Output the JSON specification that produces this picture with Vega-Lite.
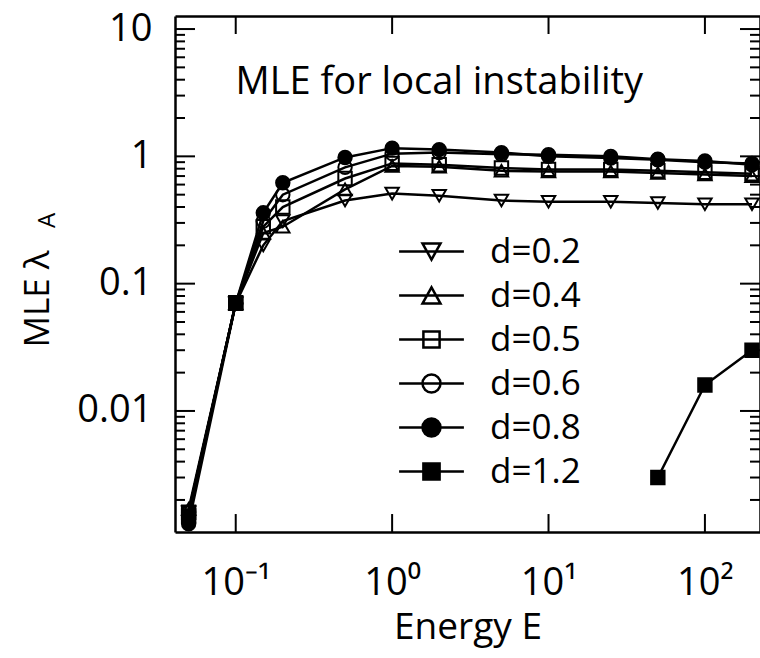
{
  "$schema": "https://vega.github.io/schema/vega-lite/v6.json",
  "width": 585,
  "height": 516,
  "autosize": {"type": "none"},
  "padding": {"left": 175, "top": 16, "right": 0, "bottom": 126},
  "background": "white",
  "config": {
    "view": {"stroke": null},
    "font": "Open Sans",
    "axis": {"titleFontWeight": "normal", "labelColor": "black", "titleColor": "black", "domainColor": "black", "domainWidth": 2.5, "grid": false}
  },
  "data": {
    "values": [
      {"E": 0.05, "v": 0.0016, "d": "d=0.2", "seg": "a"},
      {"E": 0.1, "v": 0.07, "d": "d=0.2", "seg": "a"},
      {"E": 0.15, "v": 0.2, "d": "d=0.2", "seg": "a"},
      {"E": 0.2, "v": 0.31, "d": "d=0.2", "seg": "a"},
      {"E": 0.5, "v": 0.45, "d": "d=0.2", "seg": "a"},
      {"E": 1, "v": 0.51, "d": "d=0.2", "seg": "a"},
      {"E": 2, "v": 0.49, "d": "d=0.2", "seg": "a"},
      {"E": 5, "v": 0.45, "d": "d=0.2", "seg": "a"},
      {"E": 10, "v": 0.44, "d": "d=0.2", "seg": "a"},
      {"E": 25, "v": 0.44, "d": "d=0.2", "seg": "a"},
      {"E": 50, "v": 0.43, "d": "d=0.2", "seg": "a"},
      {"E": 100, "v": 0.42, "d": "d=0.2", "seg": "a"},
      {"E": 200, "v": 0.42, "d": "d=0.2", "seg": "a"},

      {"E": 0.05, "v": 0.0017, "d": "d=0.4", "seg": "a"},
      {"E": 0.1, "v": 0.07, "d": "d=0.4", "seg": "a"},
      {"E": 0.15, "v": 0.25, "d": "d=0.4", "seg": "a"},
      {"E": 0.2, "v": 0.28, "d": "d=0.4", "seg": "a"},
      {"E": 0.5, "v": 0.55, "d": "d=0.4", "seg": "a"},
      {"E": 1, "v": 0.84, "d": "d=0.4", "seg": "a"},
      {"E": 2, "v": 0.83, "d": "d=0.4", "seg": "a"},
      {"E": 5, "v": 0.77, "d": "d=0.4", "seg": "a"},
      {"E": 10, "v": 0.76, "d": "d=0.4", "seg": "a"},
      {"E": 25, "v": 0.76, "d": "d=0.4", "seg": "a"},
      {"E": 50, "v": 0.74, "d": "d=0.4", "seg": "a"},
      {"E": 100, "v": 0.72, "d": "d=0.4", "seg": "a"},
      {"E": 200, "v": 0.7, "d": "d=0.4", "seg": "a"},

      {"E": 0.05, "v": 0.0016, "d": "d=0.5", "seg": "a"},
      {"E": 0.1, "v": 0.07, "d": "d=0.5", "seg": "a"},
      {"E": 0.15, "v": 0.28, "d": "d=0.5", "seg": "a"},
      {"E": 0.2, "v": 0.4, "d": "d=0.5", "seg": "a"},
      {"E": 0.5, "v": 0.67, "d": "d=0.5", "seg": "a"},
      {"E": 1, "v": 0.88, "d": "d=0.5", "seg": "a"},
      {"E": 2, "v": 0.86, "d": "d=0.5", "seg": "a"},
      {"E": 5, "v": 0.81, "d": "d=0.5", "seg": "a"},
      {"E": 10, "v": 0.79, "d": "d=0.5", "seg": "a"},
      {"E": 25, "v": 0.79, "d": "d=0.5", "seg": "a"},
      {"E": 50, "v": 0.77, "d": "d=0.5", "seg": "a"},
      {"E": 100, "v": 0.75, "d": "d=0.5", "seg": "a"},
      {"E": 200, "v": 0.73, "d": "d=0.5", "seg": "a"},

      {"E": 0.05, "v": 0.0016, "d": "d=0.6", "seg": "a"},
      {"E": 0.1, "v": 0.07, "d": "d=0.6", "seg": "a"},
      {"E": 0.15, "v": 0.31, "d": "d=0.6", "seg": "a"},
      {"E": 0.2, "v": 0.5, "d": "d=0.6", "seg": "a"},
      {"E": 0.5, "v": 0.82, "d": "d=0.6", "seg": "a"},
      {"E": 1, "v": 1.05, "d": "d=0.6", "seg": "a"},
      {"E": 2, "v": 1.07, "d": "d=0.6", "seg": "a"},
      {"E": 5, "v": 1.04, "d": "d=0.6", "seg": "a"},
      {"E": 10, "v": 1.03, "d": "d=0.6", "seg": "a"},
      {"E": 25, "v": 1.0, "d": "d=0.6", "seg": "a"},
      {"E": 50, "v": 0.95, "d": "d=0.6", "seg": "a"},
      {"E": 100, "v": 0.92, "d": "d=0.6", "seg": "a"},
      {"E": 200, "v": 0.86, "d": "d=0.6", "seg": "a"},

      {"E": 0.05, "v": 0.0013, "d": "d=0.8", "seg": "a"},
      {"E": 0.1, "v": 0.07, "d": "d=0.8", "seg": "a"},
      {"E": 0.15, "v": 0.36, "d": "d=0.8", "seg": "a"},
      {"E": 0.2, "v": 0.62, "d": "d=0.8", "seg": "a"},
      {"E": 0.5, "v": 0.98, "d": "d=0.8", "seg": "a"},
      {"E": 1, "v": 1.16, "d": "d=0.8", "seg": "a"},
      {"E": 2, "v": 1.13, "d": "d=0.8", "seg": "a"},
      {"E": 5, "v": 1.07, "d": "d=0.8", "seg": "a"},
      {"E": 10, "v": 1.0, "d": "d=0.8", "seg": "a"},
      {"E": 25, "v": 0.97, "d": "d=0.8", "seg": "a"},
      {"E": 50, "v": 0.94, "d": "d=0.8", "seg": "a"},
      {"E": 100, "v": 0.9, "d": "d=0.8", "seg": "a"},
      {"E": 200, "v": 0.88, "d": "d=0.8", "seg": "a"},

      {"E": 0.05, "v": 0.0015, "d": "d=1.2", "seg": "a"},
      {"E": 0.1, "v": 0.071, "d": "d=1.2", "seg": "a"},
      {"E": 50, "v": 0.003, "d": "d=1.2", "seg": "b"},
      {"E": 100, "v": 0.016, "d": "d=1.2", "seg": "b"},
      {"E": 200, "v": 0.03, "d": "d=1.2", "seg": "b"}
    ]
  },
  "layer": [
    {
      "mark": {"type": "line", "color": "black", "strokeWidth": 2.5},
      "encoding": {
        "x": {
          "field": "E", "type": "quantitative",
          "scale": {"type": "log", "domain": [0.0409, 225], "nice": false},
          "axis": {
            "orient": "bottom",
            "values": [0.1, 1, 10, 100],
            "ticks": false,
            "labelExpr": "datum.value == 0.1 ? '10⁻¹' : datum.value == 1 ? '10⁰' : datum.value == 10 ? '10¹' : '10²'",
            "labelFontSize": 38, "labelPadding": 32, "labelOverlap": false, "labelFlush": false, "labelBound": false,
            "title": "Energy E", "titleFontSize": 37, "titleY": 106, "titleBaseline": "alphabetic"
          }
        },
        "y": {
          "field": "v", "type": "quantitative",
          "scale": {"type": "log", "domain": [0.00112, 12.66], "nice": false},
          "axis": {
            "orient": "left",
            "values": [0.01, 0.1, 1, 10],
            "ticks": false,
            "labelExpr": "datum.value == 10 ? '10' : datum.value == 1 ? '1' : datum.value == 0.1 ? '0.1' : '0.01'",
            "labelFontSize": 38, "labelPadding": 23, "labelOverlap": false, "labelFlush": false, "labelBound": false,
            "title": "MLE λ", "titleFontSize": 35, "titleAngle": 270, "titleX": -138, "titleY": 331, "titleAlign": "left", "titleBaseline": "middle"
          }
        },
        "detail": [{"field": "d"}, {"field": "seg"}]
      }
    },
    {
      "mark": {"type": "point", "filled": true, "stroke": "black", "strokeWidth": 2, "size": 180, "opacity": 1},
      "encoding": {
        "x": {
          "field": "E", "type": "quantitative",
          "scale": {"type": "log", "domain": [0.0409, 225], "nice": false},
          "axis": {
            "orient": "top", "ticks": false, "labels": false,
            "title": "MLE for local instability", "titleFontSize": 38, "titleX": 60, "titleY": 77, "titleAlign": "left", "titleBaseline": "alphabetic", "titleAngle": 0
          }
        },
        "y": {
          "field": "v", "type": "quantitative",
          "scale": {"type": "log", "domain": [0.00112, 12.66], "nice": false},
          "axis": {"orient": "right", "ticks": false, "labels": false, "title": null}
        },
        "shape": {
          "field": "d", "type": "nominal",
          "scale": {"domain": ["d=0.2", "d=0.4", "d=0.5", "d=0.6", "d=0.8", "d=1.2"], "range": ["triangle-down", "triangle-up", "square", "circle", "circle", "square"]},
          "legend": null
        },
        "fill": {
          "field": "d", "type": "nominal",
          "scale": {"domain": ["d=0.2", "d=0.4", "d=0.5", "d=0.6", "d=0.8", "d=1.2"], "range": ["transparent", "transparent", "transparent", "transparent", "black", "black"]},
          "legend": null
        }
      }
    },
    {
      "transform": [{"filter": "false"}],
      "mark": {"type": "point", "filled": true, "strokeWidth": 2.5, "size": 324, "opacity": 1},
      "encoding": {
        "x": {
          "field": "E", "type": "quantitative",
          "scale": {"type": "log", "domain": [0.0409, 225], "nice": false},
          "axis": {"orient": "bottom", "ticks": false, "labels": false, "domain": false, "title": null}
        },
        "y": {
          "field": "v", "type": "quantitative",
          "scale": {"type": "log", "domain": [0.00112, 12.66], "nice": false},
          "axis": {
            "orient": "left", "ticks": false, "labels": false, "domain": false,
            "title": "A", "titleFontSize": 24, "titleAngle": 270, "titleX": -128, "titleY": 204, "titleAlign": "center", "titleBaseline": "middle"
          }
        },
        "shape": {
          "field": "d", "type": "nominal",
          "scale": {"domain": ["d=0.2", "d=0.4", "d=0.5", "d=0.6", "d=0.8", "d=1.2"], "range": ["M-3.6,0H3.6M-1,-0.9H1L0,0.9Z", "M-3.6,0H3.6M-1,0.9H1L0,-0.9Z", "M-3.6,0H3.6M-0.9,-0.9H0.9V0.9H-0.9Z", "M-3.6,0H3.6M-1,0A1,1,0,1,0,1,0A1,1,0,1,0,-1,0Z", "M-3.6,0H3.6M-1,0A1,1,0,1,0,1,0A1,1,0,1,0,-1,0Z", "M-3.6,0H3.6M-0.9,-0.9H0.9V0.9H-0.9Z"]},
          "legend": {
            "orient": "none", "legendX": 239, "legendY": 218, "title": null, "padding": 0,
            "symbolSize": 324, "symbolStrokeWidth": 2.5,
            "labelFontSize": 35, "labelColor": "black", "labelOffset": 41, "labelLimit": 300, "rowPadding": 8
          }
        },
        "fill": {
          "field": "d", "type": "nominal",
          "scale": {"domain": ["d=0.2", "d=0.4", "d=0.5", "d=0.6", "d=0.8", "d=1.2"], "range": ["transparent", "transparent", "transparent", "transparent", "black", "black"]},
          "legend": {
            "orient": "none", "legendX": 239, "legendY": 218, "title": null, "padding": 0,
            "symbolSize": 324, "symbolStrokeWidth": 2.5,
            "labelFontSize": 35, "labelColor": "black", "labelOffset": 41, "labelLimit": 300, "rowPadding": 8
          }
        },
        "stroke": {
          "field": "d", "type": "nominal",
          "scale": {"domain": ["d=0.2", "d=0.4", "d=0.5", "d=0.6", "d=0.8", "d=1.2"], "range": ["black", "black", "black", "black", "black", "black"]},
          "legend": {
            "orient": "none", "legendX": 239, "legendY": 218, "title": null, "padding": 0,
            "symbolSize": 324, "symbolStrokeWidth": 2.5,
            "labelFontSize": 35, "labelColor": "black", "labelOffset": 41, "labelLimit": 300, "rowPadding": 8
          }
        }
      }
    },
    {
      "data": {"values": [{"t": 0.1}, {"t": 1}, {"t": 10}, {"t": 100}]},
      "mark": {"type": "rule", "color": "black", "strokeWidth": 2},
      "encoding": {
        "x": {"field": "t", "type": "quantitative", "axis": null},
        "y": {"datum": 0.00112, "type": "quantitative", "axis": null},
        "y2": {"datum": 0.00155}
      }
    },
    {
      "data": {"values": [{"t": 0.1}, {"t": 1}, {"t": 10}, {"t": 100}]},
      "mark": {"type": "rule", "color": "black", "strokeWidth": 2},
      "encoding": {
        "x": {"field": "t", "type": "quantitative", "axis": null},
        "y": {"datum": 12.66, "type": "quantitative", "axis": null},
        "y2": {"datum": 9.14}
      }
    },
    {
      "data": {"values": [{"t": 0.01}, {"t": 0.1}, {"t": 1}, {"t": 10}]},
      "mark": {"type": "rule", "color": "black", "strokeWidth": 2},
      "encoding": {
        "y": {"field": "t", "type": "quantitative", "axis": null},
        "x": {"datum": 0.0409, "type": "quantitative", "axis": null},
        "x2": {"datum": 0.0549}
      }
    },
    {
      "data": {"values": [{"t": 0.002}, {"t": 0.003}, {"t": 0.004}, {"t": 0.005}, {"t": 0.006}, {"t": 0.007}, {"t": 0.008}, {"t": 0.009}, {"t": 0.02}, {"t": 0.03}, {"t": 0.04}, {"t": 0.05}, {"t": 0.06}, {"t": 0.07}, {"t": 0.08}, {"t": 0.09}, {"t": 0.2}, {"t": 0.3}, {"t": 0.4}, {"t": 0.5}, {"t": 0.6}, {"t": 0.7}, {"t": 0.8}, {"t": 0.9}, {"t": 2}, {"t": 3}, {"t": 4}, {"t": 5}, {"t": 6}, {"t": 7}, {"t": 8}, {"t": 9}]},
      "mark": {"type": "rule", "color": "black", "strokeWidth": 2},
      "encoding": {
        "y": {"field": "t", "type": "quantitative", "axis": null},
        "x": {"datum": 0.0409, "type": "quantitative", "axis": null},
        "x2": {"datum": 0.0474}
      }
    },
    {
      "data": {"values": [{"t": 0.01}, {"t": 0.1}, {"t": 1}, {"t": 10}]},
      "mark": {"type": "rule", "color": "black", "strokeWidth": 2},
      "encoding": {
        "y": {"field": "t", "type": "quantitative", "axis": null},
        "x": {"datum": 225, "type": "quantitative", "axis": null},
        "x2": {"datum": 167.6}
      }
    },
    {
      "data": {"values": [{"t": 0.002}, {"t": 0.003}, {"t": 0.004}, {"t": 0.005}, {"t": 0.006}, {"t": 0.007}, {"t": 0.008}, {"t": 0.009}, {"t": 0.02}, {"t": 0.03}, {"t": 0.04}, {"t": 0.05}, {"t": 0.06}, {"t": 0.07}, {"t": 0.08}, {"t": 0.09}, {"t": 0.2}, {"t": 0.3}, {"t": 0.4}, {"t": 0.5}, {"t": 0.6}, {"t": 0.7}, {"t": 0.8}, {"t": 0.9}, {"t": 2}, {"t": 3}, {"t": 4}, {"t": 5}, {"t": 6}, {"t": 7}, {"t": 8}, {"t": 9}]},
      "mark": {"type": "rule", "color": "black", "strokeWidth": 2},
      "encoding": {
        "y": {"field": "t", "type": "quantitative", "axis": null},
        "x": {"datum": 225, "type": "quantitative", "axis": null},
        "x2": {"datum": 194.2}
      }
    }
  ],
  "resolve": {
    "axis": {"x": "independent", "y": "independent"},
    "scale": {"shape": "independent", "fill": "independent", "stroke": "independent"}
  }
}
